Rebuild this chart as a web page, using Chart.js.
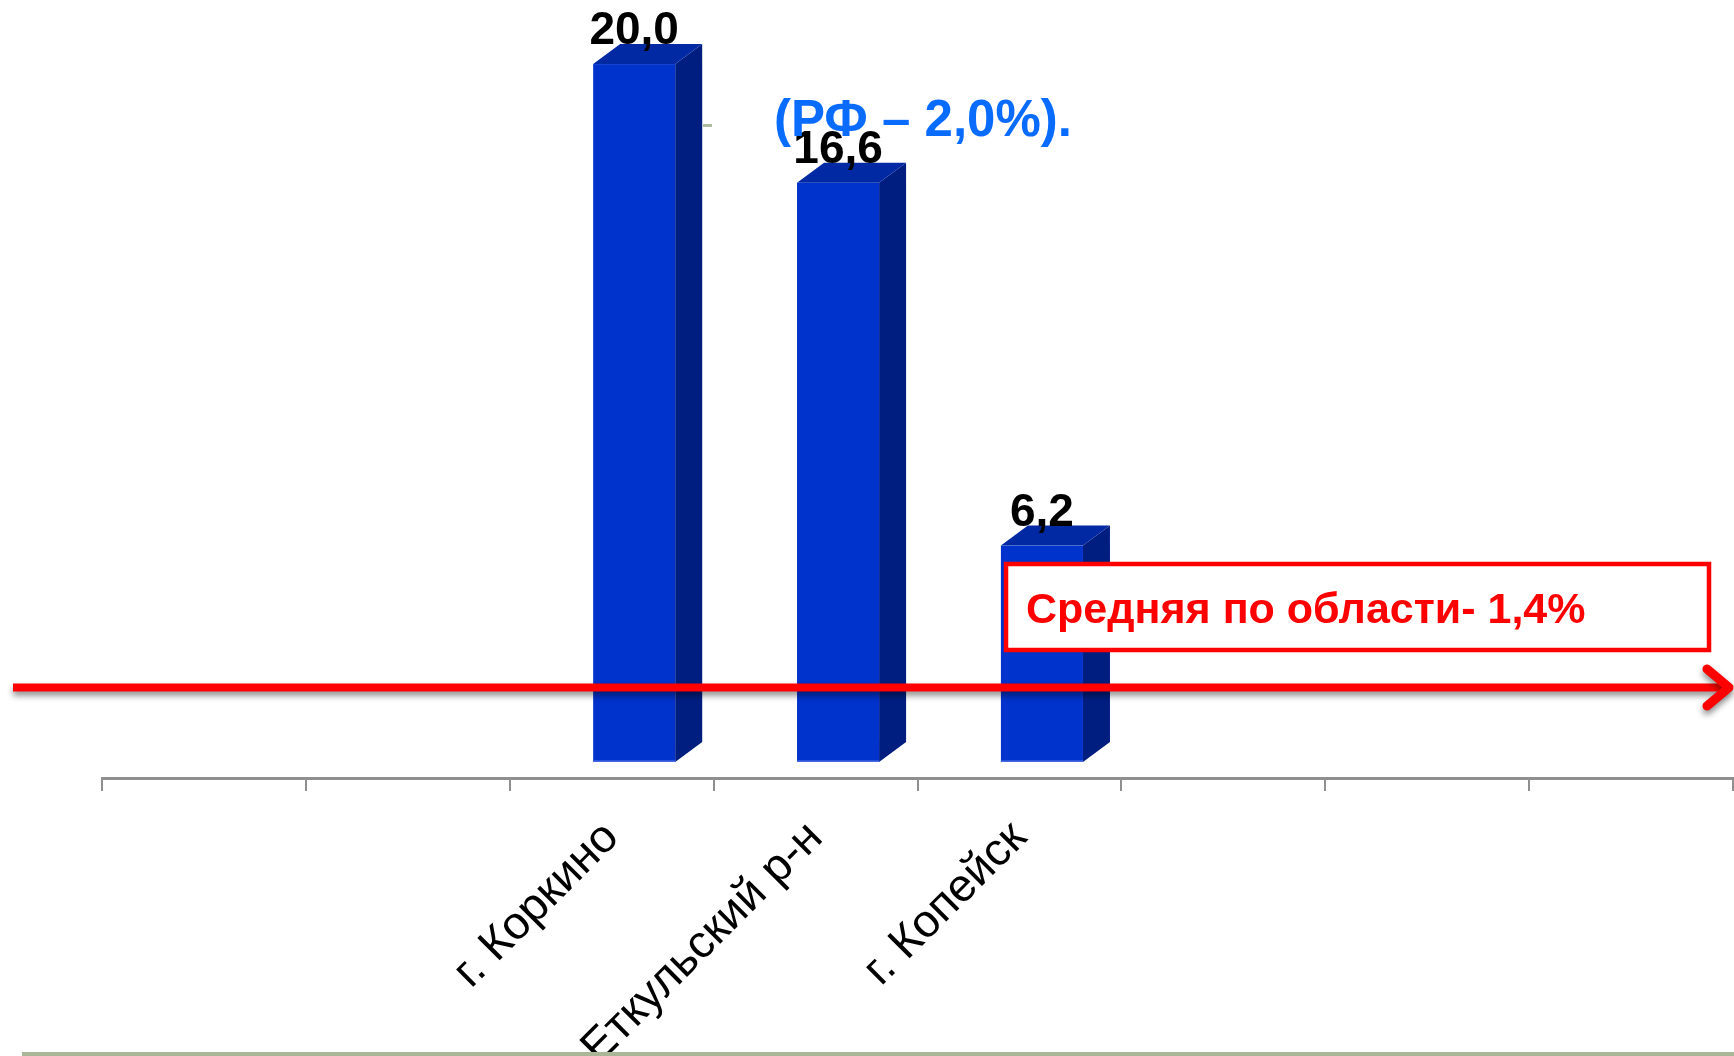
<!DOCTYPE html>
<html>
<head>
<meta charset="utf-8">
<script src="https://cdn.jsdelivr.net/npm/chart.js@4/dist/chart.umd.min.js"></script>
<style>
html,body{margin:0;padding:0;background:#fff;overflow:hidden}
#wrap{width:1734px;height:1056px;position:relative}
</style>
</head>
<body>
<div id="wrap"><canvas id="c" width="1734" height="1056"></canvas></div>
<script>
// ---- data ----
const categories = ['', '', 'г. Коркино', 'Еткульский р-н', 'г. Копейск', '', '', ''];
const values = [null, null, 20.0, 16.6, 6.2, null, null, null];
const rfNote = '(РФ – 2,0%).';
const regionNote = 'Средняя по области- 1,4%';
const yMin = -0.46;
const yMax = 21.55;

// ---- styles ----
const FONT = '"Liberation Sans", Arial, sans-serif';
const FRONT = '#0033CC';
const SIDE = '#001E80';
const TOP = '#0029A3';
const SHIFT = 22.5;   // 3D projection shift of the column relative to its slot
const DX = 27, DY = 20; // depth of the column

function fmt(v) { return v.toFixed(1).replace('.', ','); }

const bar3d = {
  id: 'bar3d',
  afterDatasetsDraw(chart) {
    const ctx = chart.ctx;
    const meta = chart.getDatasetMeta(0);
    ctx.save();
    meta.data.forEach((el, i) => {
      const v = values[i];
      if (v == null) return;
      const p = el.getProps(['x', 'y', 'base', 'width'], true);
      const L = p.x - p.width / 2 + SHIFT;
      const R = p.x + p.width / 2 + SHIFT;
      const y = p.y, b = p.base;
      // side face
      ctx.fillStyle = SIDE;
      ctx.beginPath();
      ctx.moveTo(R, y); ctx.lineTo(R + DX, y - DY); ctx.lineTo(R + DX, b - DY); ctx.lineTo(R, b);
      ctx.closePath(); ctx.fill();
      // top face
      ctx.fillStyle = TOP;
      ctx.beginPath();
      ctx.moveTo(L, y); ctx.lineTo(L + DX, y - DY); ctx.lineTo(R + DX, y - DY); ctx.lineTo(R, y);
      ctx.closePath(); ctx.fill();
      // front face
      ctx.fillStyle = FRONT;
      ctx.fillRect(L, y, R - L, b - y);
      ctx.fillStyle = '#4a6ee8';
      ctx.fillRect(L, b - 1.5, R - L, 1.5);
      // value label
      ctx.fillStyle = '#000';
      ctx.font = 'bold 46px ' + FONT;
      ctx.textAlign = 'center';
      ctx.textBaseline = 'alphabetic';
      ctx.fillText(fmt(v), (L + R) / 2, y - DY);
    });

    // red arrow (regional average marker)
    ctx.save();
    ctx.shadowColor = 'rgba(0,0,0,0.45)';
    ctx.shadowBlur = 6;
    ctx.shadowOffsetY = 4;
    ctx.strokeStyle = '#FF0000';
    ctx.lineWidth = 8;
    ctx.lineCap = 'butt';
    ctx.beginPath();
    ctx.moveTo(13, 687.5); ctx.lineTo(1726, 687.5);
    ctx.stroke();
    ctx.lineCap = 'round';
    ctx.lineJoin = 'round';
    ctx.lineWidth = 9;
    ctx.beginPath();
    ctx.moveTo(1707, 669); ctx.lineTo(1729, 687.5); ctx.lineTo(1707, 706);
    ctx.stroke();
    ctx.restore();

    // regional note box
    ctx.fillStyle = '#fff';
    ctx.fillRect(1006, 564, 703, 86);
    ctx.strokeStyle = '#FF0000';
    ctx.lineWidth = 4.5;
    ctx.strokeRect(1006, 564, 703, 86);
    ctx.fillStyle = '#FF0000';
    ctx.font = 'bold 43px ' + FONT;
    ctx.textAlign = 'left';
    ctx.textBaseline = 'alphabetic';
    ctx.fillText(regionNote, 1026, 623);

    // small stray dash
    ctx.fillStyle = '#AFBCA0';
    ctx.fillRect(703, 124, 9, 3);

    // RF note
    ctx.fillStyle = '#0A6CFF';
    ctx.font = 'bold 51px ' + FONT;
    ctx.fillText(rfNote, 774, 136);

    // bottom green rule
    ctx.fillStyle = '#A9B796';
    ctx.fillRect(22, 1052, 1712, 4);
    ctx.restore();
  }
};

new Chart(document.getElementById('c').getContext('2d'), {
  type: 'bar',
  data: {
    labels: categories,
    datasets: [{
      data: values,
      backgroundColor: 'rgba(0,0,0,0)',
      borderWidth: 0,
      barPercentage: 0.4025,
      categoryPercentage: 1
    }]
  },
  options: {
    responsive: false,
    animation: false,
    devicePixelRatio: 1,
    layout: { padding: { top: 10, left: 102, right: 1, bottom: 0 } },
    plugins: { legend: { display: false }, tooltip: { enabled: false } },
    scales: {
      x: {
        grid: { offset: true, drawOnChartArea: false, drawTicks: true, tickLength: 13, color: '#8f8f8f', lineWidth: 2 },
        border: { display: true, color: '#8f8f8f', width: 3 },
        ticks: {
          minRotation: 45, maxRotation: 45, autoSkip: false,
          font: { family: FONT, size: 46 }, color: '#000', padding: 20
        },
        afterFit: s => { s.height = 278; }
      },
      y: { display: false, min: yMin, max: yMax }
    }
  },
  plugins: [bar3d]
});
</script>
</body>
</html>
